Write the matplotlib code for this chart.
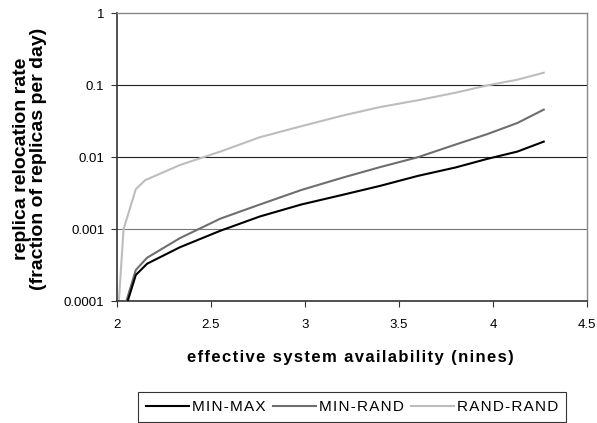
import matplotlib
matplotlib.use("Agg")
import matplotlib.pyplot as plt
from matplotlib.ticker import FixedLocator, FixedFormatter, NullLocator

plt.rcParams['font.family'] = ['Liberation Sans', 'DejaVu Sans']

x_mm = [2.057, 2.1, 2.16, 2.335, 2.55, 2.76, 2.98, 3.2, 3.4, 3.6, 3.8, 3.97, 4.13, 4.27]
min_max = [0.0001, 0.00023, 0.00033, 0.00056, 0.00095, 0.0015, 0.0022, 0.003, 0.004, 0.0055, 0.0072, 0.0095, 0.012, 0.0165]

x_mr = [2.05, 2.1, 2.16, 2.335, 2.55, 2.76, 2.98, 3.2, 3.4, 3.6, 3.8, 3.97, 4.13, 4.27]
min_rand = [0.0001, 0.00027, 0.0004, 0.00075, 0.0014, 0.0022, 0.0035, 0.0052, 0.0073, 0.010, 0.015, 0.021, 0.030, 0.046]

x_rr = [2.01, 2.035, 2.1, 2.15, 2.335, 2.55, 2.76, 2.98, 3.2, 3.4, 3.6, 3.8, 3.97, 4.13, 4.27]
rand_rand = [0.0001, 0.001, 0.0036, 0.0048, 0.0078, 0.012, 0.019, 0.027, 0.038, 0.050, 0.062, 0.079, 0.10, 0.12, 0.15]

x_ticks = [2, 2.5, 3, 3.5, 4, 4.5]
x_tick_labels = ["2", "2.5", "3", "3.5", "4", "4.5"]
y_ticks = [0.0001, 0.001, 0.01, 0.1, 1]
y_tick_labels = ["0.0001", "0.001", "0.01", "0.1", "1"]

x_label = "effective system availability (nines)"
y_label_lines = ["replica relocation rate", "(fraction of replicas per day)"]
series_names = ["MIN-MAX", "MIN-RAND", "RAND-RAND"]

fig = plt.figure(figsize=(5.97, 4.23), dpi=100)
ax = fig.add_axes([117/597, 1 - 301/423, (587 - 117)/597, (301 - 13.5)/423])

ax.set_yscale('log')
ax.set_xlim(2, 4.5)
ax.set_ylim(0.0001, 1)

for yv, c in [(0.1, '#222222'), (0.01, '#222222'), (0.001, '#777777')]:
    ax.axhline(yv, color=c, lw=0.8, zorder=1)

ax.plot(x_mm, min_max, color='#000000', lw=1.5, label=series_names[0], zorder=4)
ax.plot(x_mr, min_rand, color='#6e6e6e', lw=1.5, label=series_names[1], zorder=3)
ax.plot(x_rr, rand_rand, color='#bdbdbd', lw=1.5, label=series_names[2], zorder=2)

ax.xaxis.set_major_locator(FixedLocator(x_ticks))
ax.xaxis.set_major_formatter(FixedFormatter(x_tick_labels))
ax.yaxis.set_major_locator(FixedLocator(y_ticks))
ax.yaxis.set_major_formatter(FixedFormatter(y_tick_labels))
ax.yaxis.set_minor_locator(NullLocator())
ax.xaxis.set_minor_locator(NullLocator())

ax.tick_params(axis='both', direction='out', length=4, width=0.8, color='#333333',
               labelsize=9.5, pad=5)
ax.tick_params(axis='x', pad=9)

for s in ['left', 'bottom']:
    ax.spines[s].set_color('#333333')
    ax.spines[s].set_linewidth(1.2)
for s in ['top', 'right']:
    ax.spines[s].set_color('#888888')
    ax.spines[s].set_linewidth(1.0)

def spaced(t):
    return "\u200a".join(t)

fig.text(350/597, 1 - 357/423, spaced(x_label),
         ha='center', va='center', fontsize=12, fontweight='bold')
fig.text(30/597, 1 - 159/423, "\n".join(y_label_lines),
         ha='center', va='center', rotation=90, fontsize=14, fontweight='bold', linespacing=1.05)

handles, _ = ax.get_legend_handles_labels()
leg = fig.legend(handles, [spaced(n) for n in series_names],
                 loc='center', bbox_to_anchor=(352/597, 1 - 407/423), ncol=3, frameon=True,
                 fancybox=False, edgecolor='#000000', fontsize=11, handlelength=2.8,
                 handletextpad=0.2, columnspacing=0.5, borderpad=0.5)
leg.get_frame().set_linewidth(0.8)

fig.savefig("out.png", dpi=100)
